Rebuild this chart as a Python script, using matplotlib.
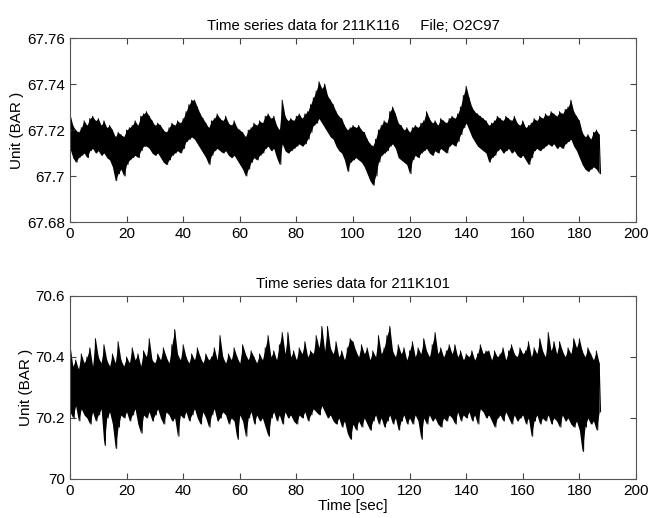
import matplotlib
matplotlib.use("Agg")
import matplotlib.pyplot as plt
import numpy as np
from matplotlib.ticker import FuncFormatter

plt.rcParams['font.family'] = ['Liberation Sans', 'DejaVu Sans']

# time axis: one high/low pair per second of record
t_sec = np.arange(0, 188)

# top channel 211K116, thousandths of BAR above 67.70
top_base = 67.70
top_hi = [27, 22, 20, 19, 21, 24, 22, 25, 26, 24,
          25, 22, 24, 21, 22, 20, 17, 19, 18, 17,
          20, 21, 22, 24, 22, 26, 27, 28, 26, 24,
          22, 23, 22, 20, 19, 21, 23, 22, 24, 23,
          25, 28, 31, 33, 33, 30, 27, 25, 23, 21,
          24, 25, 27, 25, 24, 26, 23, 22, 24, 21,
          20, 19, 17, 20, 21, 23, 22, 24, 23, 26,
          27, 25, 26, 22, 20, 33, 26, 24, 25, 24,
          26, 27, 25, 27, 28, 31, 34, 37, 41, 38,
          40, 35, 33, 31, 28, 26, 25, 22, 20, 21,
          22, 21, 22, 20, 19, 16, 14, 13, 16, 20,
          22, 24, 23, 28, 30, 27, 23, 22, 20, 21,
          19, 21, 22, 21, 23, 24, 28, 25, 23, 24,
          22, 25, 24, 23, 25, 26, 25, 27, 30, 35,
          39, 34, 30, 28, 27, 26, 25, 24, 22, 23,
          24, 26, 25, 24, 26, 25, 24, 26, 23, 22,
          24, 21, 22, 23, 25, 24, 26, 25, 27, 26,
          28, 27, 26, 28, 27, 29, 30, 33, 28, 26,
          24, 19, 17, 18, 16, 19, 20, 18]
top_lo = [12, 8, 6, 8, 9, 10, 8, 11, 12, 10,
          11, 9, 10, 8, 7, 4, -2, 1, 3, 0,
          5, 7, 8, 9, 8, 11, 13, 13, 12, 10,
          9, 10, 8, 6, 5, 7, 9, 10, 11, 10,
          12, 15, 16, 17, 16, 14, 12, 10, 8, 5,
          9, 11, 12, 11, 10, 11, 9, 8, 9, 7,
          5, 3, 0, 3, 6, 8, 7, 9, 10, 12,
          13, 11, 12, 8, 5, 14, 11, 10, 11, 12,
          13, 14, 13, 14, 16, 19, 22, 23, 25, 23,
          21, 19, 17, 16, 13, 11, 10, 7, 2, 6,
          7, 8, 7, 6, 4, 1, -2, -4, 0, 6,
          9, 10, 11, 13, 14, 12, 8, 7, 6, 5,
          1, 7, 9, 8, 10, 11, 12, 10, 9, 11,
          10, 12, 11, 10, 13, 14, 13, 15, 18, 21,
          23, 20, 17, 15, 13, 12, 11, 10, 6, 8,
          9, 11, 12, 10, 11, 12, 10, 11, 9, 8,
          9, 7, 5, 8, 11, 12, 11, 12, 13, 14,
          13, 14, 12, 13, 12, 14, 15, 16, 13, 11,
          8, 5, 3, 2, 3, 4, 3, 1]

# bottom channel 211K101, hundredths of BAR above 70.00
bot_base = 70.0
bot_hi = [44, 37, 39, 36, 41, 38, 40, 43, 37, 46,
          40, 38, 44, 39, 37, 41, 38, 45, 39, 37,
          40, 38, 43, 39, 41, 37, 42, 40, 46, 39,
          38, 41, 39, 43, 40, 38, 44, 49, 41, 39,
          44, 40, 38, 41, 39, 43, 40, 38, 41, 39,
          40, 43, 39, 47, 40, 38, 41, 39, 43, 40,
          38, 44, 41, 39, 42, 40, 38, 41, 39, 43,
          47, 40, 42, 39, 44, 48, 41, 48, 40, 42,
          39, 43, 41, 45, 40, 42, 41, 47, 43, 50,
          42, 50, 43, 41, 45, 40, 42, 39, 43, 46,
          45, 42, 40, 44, 41, 43, 39, 42, 40, 47,
          41, 43, 47, 50, 42, 40, 44, 41, 43, 39,
          42, 45, 40, 43, 41, 46, 42, 40, 44, 48,
          41, 43, 40, 42, 44, 41, 44, 40, 42, 39,
          41, 40, 42, 39, 41, 44, 41, 42, 42, 39,
          42, 40, 41, 43, 39, 42, 44, 41, 40, 43,
          41, 42, 45, 40, 43, 41, 46, 42, 40, 48,
          42, 45, 41, 45, 42, 40, 43, 41, 46, 43,
          46, 42, 40, 43, 41, 39, 42, 38]
bot_lo = [22, 20, 24, 19, 23, 21, 20, 18, 22, 19,
          21, 23, 11, 20, 22, 18, 10, 17, 21, 20,
          22, 19, 21, 23, 18, 15, 21, 20, 22, 19,
          21, 23, 20, 18, 22, 21, 19, 20, 14, 21,
          20, 22, 19, 21, 23, 20, 18, 22, 20, 17,
          21, 23, 19, 20, 22, 21, 18, 20, 19, 13,
          21, 19, 14, 20, 22, 18, 21, 19, 20, 17,
          14, 20, 22, 19, 21, 18, 22, 20, 21, 19,
          18, 21, 20, 22, 19, 21, 23, 22, 21, 24,
          22, 20, 21, 19, 18, 20, 17, 19, 15, 13,
          18, 16, 19, 17, 20, 18, 16, 19, 21, 18,
          20, 17, 19, 21, 18, 20, 16, 19, 21, 18,
          20, 18, 21, 19, 13, 20, 18, 21, 19, 20,
          18, 17, 20, 19, 21, 20, 18, 22, 19, 21,
          20, 22, 19, 21, 18, 23, 22, 20, 21, 19,
          17, 20, 21, 19, 22, 20, 18, 21, 19, 20,
          21, 18, 20, 14, 19, 21, 18, 20, 19, 21,
          18, 20, 19, 17, 21, 19, 20, 18, 17, 19,
          16, 9, 17, 20, 18, 19, 16, 22]


def draw_trace(ax, hi, lo, base, unit):
    hi_v = np.array(hi) * unit + base
    lo_v = np.array(lo) * unit + base
    # dense record: solid between each second's low and high, plus the raw swing
    ax.fill_between(t_sec, lo_v, hi_v, color='black', linewidth=0)
    x = np.column_stack([t_sec, t_sec + 0.5]).ravel()
    y = np.column_stack([hi_v, lo_v]).ravel()
    ax.plot(x, y, color='black', linewidth=0.7)


def style(ax):
    ax.set_xlim(0, 200)
    ax.set_xticks(np.arange(0, 201, 20))
    ax.tick_params(direction='in', top=True, right=True, length=4,
                   labelsize=11, color='#444444')
    ax.yaxis.set_major_formatter(FuncFormatter(lambda v, p: '%g' % round(v, 4)))
    for s in ax.spines.values():
        s.set_color('#555555')
        s.set_linewidth(0.8)


fig = plt.figure(figsize=(6.51, 5.18), dpi=100)
ax1 = fig.add_axes([0.1075, 0.5714, 0.8694, 0.3552])
ax2 = fig.add_axes([0.1075, 0.0753, 0.8694, 0.3533])

draw_trace(ax1, top_hi, top_lo, top_base, 0.001)
ax1.set_ylim(67.68, 67.76)
ax1.set_yticks([67.68, 67.70, 67.72, 67.74, 67.76])
ax1.set_title('Time series data for 211K116     File; O2C97', fontsize=10.7, pad=6)
ax1.set_ylabel('Unit (BAR )', fontsize=11, labelpad=2)
style(ax1)

draw_trace(ax2, bot_hi, bot_lo, bot_base, 0.01)
ax2.set_ylim(70.0, 70.6)
ax2.set_yticks([70.0, 70.2, 70.4, 70.6])
ax2.set_title('Time series data for 211K101', fontsize=10.7, pad=6)
ax2.set_ylabel('Unit (BAR )', fontsize=11, labelpad=2)
ax2.set_xlabel('Time [sec]', fontsize=11, labelpad=1)
style(ax2)

fig.savefig('out.png', dpi=100)
